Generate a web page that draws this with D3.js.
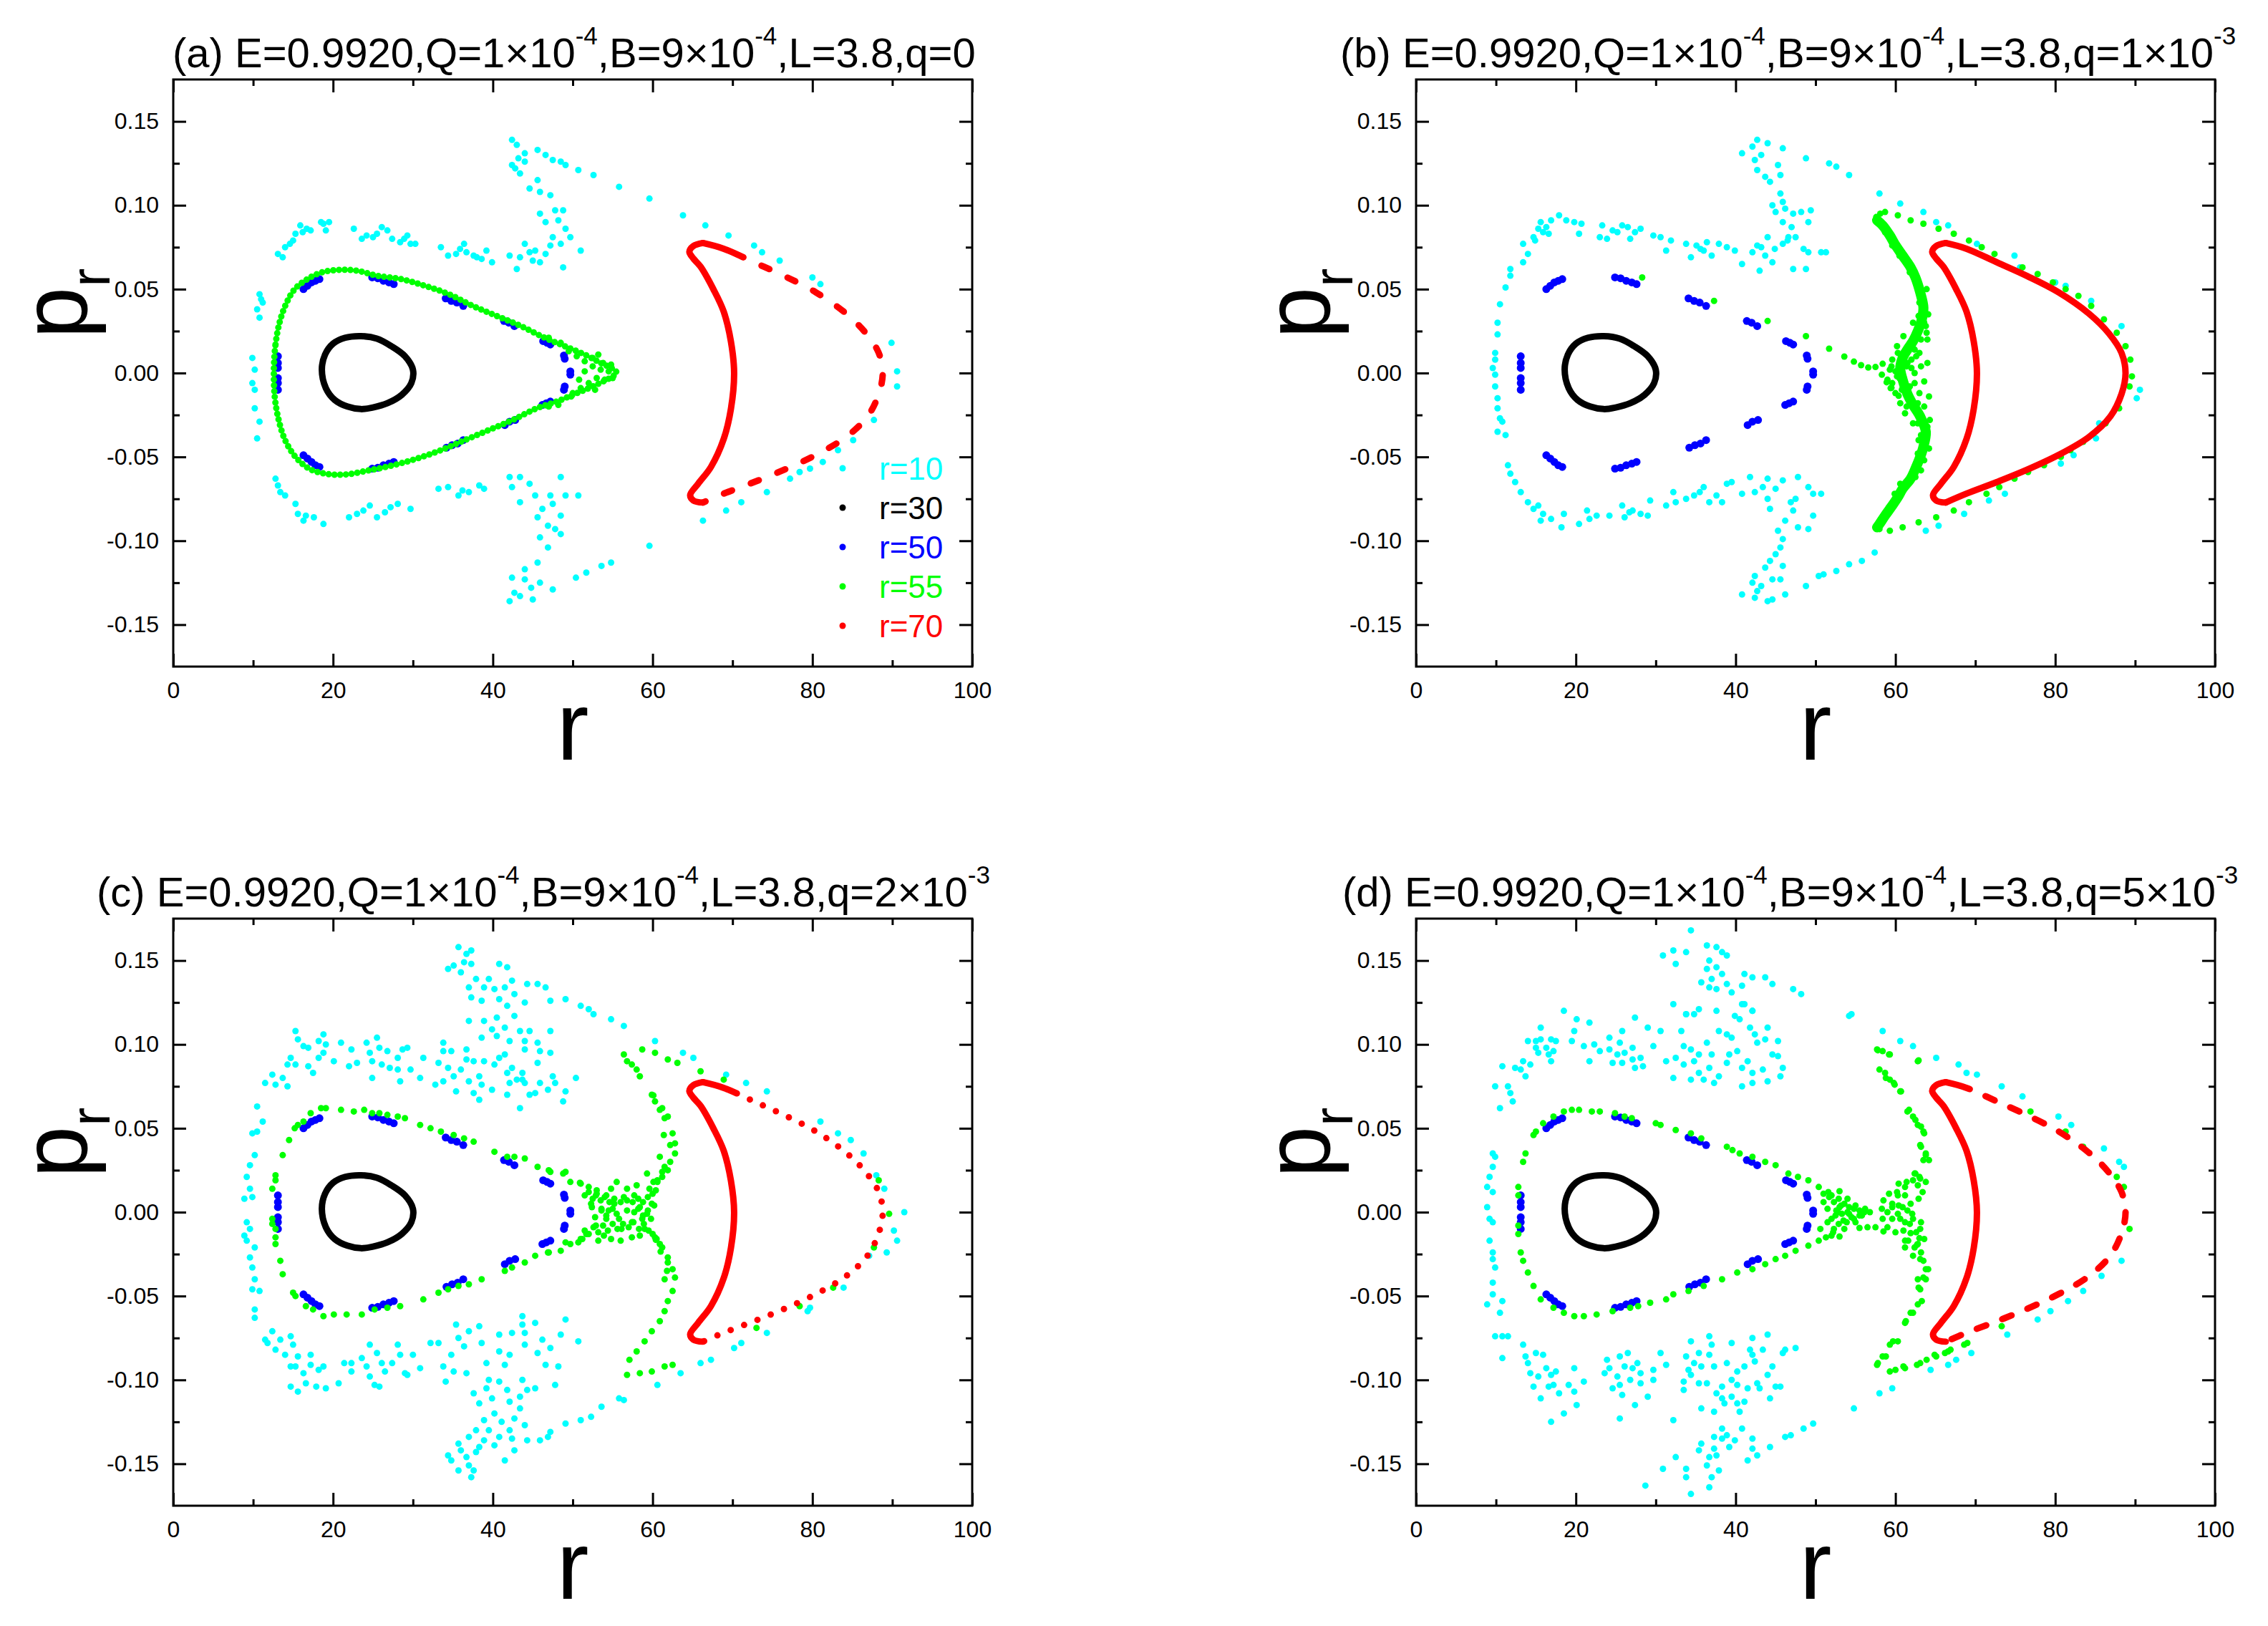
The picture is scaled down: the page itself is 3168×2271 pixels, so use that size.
<!DOCTYPE html>
<html><head><meta charset="utf-8">
<script src="https://cdn.jsdelivr.net/npm/d3@7"></script>
<style>body{margin:0;background:#fff}svg{display:block}text{font-family:"Liberation Sans",Arial,sans-serif}</style>
</head><body>
<script>
// ---------------- data ----------------
const xTicks=[0,20,40,60,80,100];
const xMinor=[10,30,50,70,90];
const yTicks=[-0.15,-0.10,-0.05,0,0.05,0.10,0.15];
const yMinor=[-0.125,-0.075,-0.025,0.025,0.075,0.125];
const panelLetters=["(a)","(b)","(c)","(d)"];
const qMain=["0","1×10","2×10","5×10"];
const qSup=["","-3","-3","-3"];
const seriesLabels=["r=10","r=30","r=50","r=55","r=70"];

// r=30 orbit (same in all panels)
const blackLoop=[[18.6,0.002],[19.0,0.011],[20.0,0.0175],[21.5,0.021],[23.5,0.022],[25.5,0.0205],[27.3,0.016],[29.0,0.010],[30.0,0.002],[29.8,-0.006],[28.6,-0.013],[26.8,-0.018],[25.0,-0.0205],[23.5,-0.0215],[21.8,-0.020],[20.2,-0.016],[19.1,-0.009]];

// r=50 island chain (same in all panels)
const blueDots=[[16.3,0.050],[16.8,0.052],[17.3,0.054],[17.8,0.055],[18.3,0.056],
[24.9,0.057],[25.6,0.0565],[26.3,0.055],[27.0,0.054],[27.6,0.053],
[34.1,0.0445],[34.8,0.043],[35.5,0.042],[36.3,0.040],
[41.4,0.031],[42.0,0.030],[42.7,0.028],
[46.3,0.019],[46.8,0.018],[47.2,0.017],
[48.9,0.0105],[49.0,0.0085],[49.7,0.001],[49.7,-0.001],[49.0,-0.008],[48.9,-0.010],
[47.2,-0.017],[46.7,-0.018],[46.2,-0.019],
[42.8,-0.028],[42.1,-0.029],[41.5,-0.031],
[36.3,-0.040],[35.6,-0.042],[34.9,-0.043],[34.2,-0.0445],
[27.6,-0.053],[27.0,-0.054],[26.3,-0.055],[25.6,-0.0565],[24.9,-0.057],
[18.3,-0.056],[17.8,-0.055],[17.3,-0.053],[16.8,-0.051],[16.3,-0.049],
[13.1,0.010],[13.1,0.006],[13.1,0.003],[13.1,-0.003],[13.1,-0.006],[13.1,-0.010]];

// r=70 orbit: inner (left) side and outer (right) side
const redInner=[[66.3,0.0775],[65.1,0.0757],[64.6,0.0723],[65.1,0.0683],[66.0,0.0634],[67.6,0.050],[68.9,0.0366],[69.8,0.0188],[70.2,0.0],[69.8,-0.0214],[68.9,-0.0393],[67.3,-0.056],[65.7,-0.066],[64.7,-0.0728],[65.1,-0.076],[66.3,-0.0772]];
const redOuter=[[66.3,0.0775],[68.9,0.0741],[72.7,0.066],[76.5,0.0578],[80.4,0.0482],[84.2,0.0355],[86.7,0.0237],[88.3,0.012],[88.8,0.0],[88.3,-0.0125],[86.9,-0.0259],[84.2,-0.0382],[80.4,-0.0489],[76.5,-0.0576],[72.7,-0.065],[68.9,-0.0719],[66.3,-0.0772]];

// r=55 loop (panel a)
const greenLoopA=[[12.6,0.003],[12.8,0.017],[13.3,0.030],[14.1,0.041],[15.2,0.050],[16.8,0.056],[18.6,0.060],[20.8,0.0615],[23.0,0.061],[25.5,0.058],[28.5,0.056],[31.5,0.052],[34.5,0.047],[37.5,0.040],[40.5,0.034],[43.5,0.028],[46.5,0.021],[49.0,0.016],[51.5,0.011],[53.5,0.006],[55.2,0.002],[55.5,0.0],[55.0,-0.002],[52.5,-0.008],[50.5,-0.012],[48.0,-0.017],[45.5,-0.021],[42.5,-0.028],[39.5,-0.034],[36.5,-0.040],[33.5,-0.046],[30.5,-0.051],[27.5,-0.055],[24.5,-0.058],[21.5,-0.0605],[19.0,-0.060],[17.0,-0.057],[15.3,-0.050],[14.0,-0.040],[13.2,-0.028],[12.7,-0.014]];
const greenTipA=[[50.5,0.010],[51.5,0.007],[52.5,0.004],[53.5,0.002],[54.5,0.001],[53.0,-0.003],[52.0,-0.006],[51.0,-0.009],[50.0,-0.012],[52.5,0.009],[53.8,0.006],[54.0,-0.004],[51.5,0.001],[50.8,-0.004],[53.2,0.011],[52.8,-0.010],[49.5,0.013],[49.8,-0.014],[54.8,0.005],[55.0,-0.003],[48.5,0.018],[48.2,-0.019],[47.0,0.021],[47.0,-0.020]];

const cyanA=[[13.1,0.071],[13.7,0.069],[14.0,0.075],[15.0,0.079],[15.3,0.083],[15.9,0.088],[16.7,0.086],[17.2,0.085],[18.5,0.090],[19.1,0.085],[18.8,0.089],[19.5,0.090],[14.6,0.077],[16.2,0.084],
[22.6,0.086],[23.6,0.080],[24.2,0.082],[25.5,0.083],[26.1,0.087],[26.8,0.085],[27.4,0.080],[28.4,0.078],[29.3,0.082],[29.7,0.077],[30.3,0.077],[25.0,0.081],[28.9,0.080],
[33.5,0.075],[34.4,0.070],[35.4,0.071],[36.4,0.077],[36.7,0.072],[37.6,0.070],[38.6,0.068],[39.2,0.073],[39.9,0.066],[35.9,0.074],[38.0,0.069],
[42.4,0.139],[43.0,0.136],[44.0,0.131],[42.4,0.124],[43.4,0.119],[44.0,0.126],[45.6,0.133],[46.6,0.130],[47.5,0.127],[48.5,0.126],[49.1,0.124],[50.7,0.121],[52.6,0.118],[55.8,0.111],[59.6,0.104],[63.8,0.094],[66.6,0.088],[69.5,0.082],[72.7,0.076],[73.7,0.072],[75.9,0.067],[80.0,0.057],[81.0,0.053],[43.2,0.128],[42.8,0.122],
[44.6,0.110],[45.6,0.115],[45.9,0.108],[47.2,0.106],[45.9,0.095],[46.6,0.090],[47.8,0.097],[48.8,0.097],[48.2,0.091],[49.1,0.086],[49.7,0.081],[47.5,0.081],[48.5,0.077],[47.2,0.076],[51.0,0.073],[44.0,0.077],[43.4,0.069],[45.0,0.067],[45.9,0.066],[43.0,0.062],[48.8,0.063],[42.1,0.070],[45.3,0.073],[46.6,0.071],[44.6,0.072],
[12.8,-0.063],[13.1,-0.067],[13.4,-0.071],[14.0,-0.073],[15.3,-0.078],[15.6,-0.084],[16.6,-0.085],[16.3,-0.088],[18.8,-0.090],[17.6,-0.086],[22.0,-0.086],[23.0,-0.084],[24.6,-0.079],[25.5,-0.086],[26.5,-0.083],[28.1,-0.078],[29.7,-0.081],[23.8,-0.082],[27.2,-0.080],
[33.2,-0.069],[34.4,-0.068],[35.7,-0.073],[37.0,-0.071],[38.3,-0.067],[38.9,-0.069],[36.2,-0.070],
[42.1,-0.062],[43.4,-0.062],[42.4,-0.068],[44.6,-0.066],[43.4,-0.077],[45.3,-0.073],[47.2,-0.073],[48.5,-0.062],[49.1,-0.073],[50.7,-0.073],[47.5,-0.078],[48.5,-0.085],[45.6,-0.086],[46.9,-0.091],[47.8,-0.093],[48.5,-0.096],[45.9,-0.098],[46.9,-0.104],[45.6,-0.113],[44.0,-0.117],[42.4,-0.122],[44.0,-0.123],[45.9,-0.125],[47.5,-0.129],[42.7,-0.131],[42.1,-0.136],[45.0,-0.135],[43.4,-0.133],[44.8,-0.128],[46.2,-0.081],
[50.4,-0.122],[51.7,-0.119],[53.6,-0.115],[54.8,-0.113],[59.6,-0.103],[66.3,-0.088],[69.2,-0.082],[71.1,-0.077],[74.3,-0.071],[77.2,-0.063],[78.4,-0.059],[79.7,-0.057],[81.3,-0.053],[83.2,-0.046],[85.1,-0.040],[87.7,-0.028],[89.9,0.018],[90.6,0.001],[90.6,-0.008],
[10.8,0.047],[11.2,0.042],[10.5,0.038],[10.8,0.033],[9.9,0.009],[10.2,0.002],[9.9,-0.006],[10.2,-0.010],[10.2,-0.021],[10.8,-0.029],[10.5,-0.039],[11.0,0.044]];

const cyanB=[[10.5,0.041],[10.2,0.030],[10.2,0.023],[9.9,0.012],[9.9,0.008],[9.6,0.003],[9.9,-0.001],[9.9,-0.008],[10.2,-0.015],[10.2,-0.021],[10.5,-0.027],[10.8,-0.029],[11.2,-0.037],[10.2,-0.035],[11.2,0.051],[11.8,0.058],[11.8,0.062],[13.4,0.066],[13.4,0.077],[14.0,0.071],[14.7,0.081],[15.3,0.086],[15.6,0.090],[16.3,0.087],[16.6,0.083],[16.9,0.091],[17.9,0.094],[18.8,0.091],[19.8,0.090],[20.7,0.089],[20.4,0.083],[15.9,0.084],[14.9,0.079],
[23.0,0.081],[23.3,0.088],[23.9,0.080],[24.6,0.085],[25.2,0.084],[25.8,0.088],[26.5,0.087],[26.8,0.080],[27.4,0.084],[28.1,0.086],[29.7,0.082],[30.6,0.081],[31.3,0.073],[31.9,0.079],[33.8,0.077],[34.4,0.069],[35.1,0.076],[36.0,0.073],[36.4,0.078],[37.0,0.070],[37.9,0.077],[38.9,0.075],[39.9,0.073],[40.8,0.065],[42.1,0.072],[42.7,0.076],[43.0,0.061],[43.7,0.070],[44.6,0.066],[44.0,0.081],[45.9,0.077],[47.2,0.062],[48.8,0.062],[47.5,0.081],[48.5,0.074],[49.1,0.072],[50.7,0.072],[51.3,0.072],[35.6,0.074],[43.2,0.075],[44.9,0.074],[46.5,0.079],
[40.8,0.131],[42.1,0.135],[42.7,0.139],[44.0,0.137],[42.4,0.127],[42.7,0.121],[43.7,0.117],[44.3,0.114],[45.9,0.134],[48.8,0.128],[45.6,0.118],[45.3,0.124],[43.2,0.130],[45.6,0.107],[45.9,0.102],[44.6,0.100],[45.0,0.096],[46.2,0.098],[47.2,0.095],[48.2,0.096],[49.4,0.097],[49.1,0.090],[45.9,0.090],[46.6,0.081],[47.0,0.087],
[51.7,0.125],[52.6,0.123],[54.2,0.118],[58.0,0.107],[60.6,0.101],[63.5,0.096],[65.1,0.090],[66.6,0.088],[70.2,0.077],[74.9,0.070],[75.6,0.063],[80.0,0.054],[81.3,0.052],[84.5,0.043],[88.3,0.028],[90.6,-0.010],[90.2,-0.015],[85.5,-0.030],[85.1,-0.039],[82.3,-0.049],[80.7,-0.054],[73.7,-0.072],[71.7,-0.076],[68.6,-0.084],[65.4,-0.091],[63.8,-0.094],
[11.5,-0.055],[11.8,-0.060],[12.4,-0.065],[13.1,-0.071],[14.0,-0.077],[15.3,-0.079],[15.9,-0.084],[15.6,-0.088],[16.9,-0.087],[18.2,-0.092],[18.5,-0.084],[20.4,-0.090],[21.4,-0.082],[21.7,-0.087],[22.6,-0.085],[24.2,-0.085],[25.8,-0.079],[26.1,-0.086],[27.1,-0.082],[28.1,-0.084],[29.0,-0.085],[29.3,-0.076],[31.3,-0.079],[32.2,-0.071],[32.5,-0.077],[33.8,-0.075],[34.8,-0.073],[36.0,-0.068],[36.7,-0.077],[37.6,-0.073],[38.3,-0.077],[38.9,-0.066],[39.5,-0.065],[40.8,-0.072],[41.8,-0.062],[42.4,-0.071],[43.4,-0.068],[44.0,-0.063],[44.0,-0.075],[44.3,-0.081],[45.0,-0.069],[45.9,-0.064],[46.9,-0.077],[47.5,-0.075],[47.8,-0.062],[49.1,-0.068],[49.7,-0.072],[50.7,-0.072],[14.7,-0.081],[26.7,-0.083],[35.5,-0.071],
[47.2,-0.082],[46.2,-0.088],[47.8,-0.092],[49.1,-0.093],[49.7,-0.085],[45.3,-0.094],[45.9,-0.099],[45.6,-0.104],[45.0,-0.108],[44.3,-0.112],[45.9,-0.115],[43.7,-0.116],[42.4,-0.121],[44.6,-0.123],[45.6,-0.123],[42.1,-0.125],[42.7,-0.130],[40.8,-0.132],[42.4,-0.134],[44.0,-0.136],[44.6,-0.135],[46.2,-0.132],[43.2,-0.127],
[48.8,-0.127],[50.4,-0.121],[51.0,-0.120],[52.6,-0.118],[54.2,-0.114],[55.8,-0.112],[57.4,-0.107]];

const greenBandB=[[57.7,0.091],[58.4,0.088],[59.3,0.082],[59.9,0.077],[60.9,0.070],[61.9,0.063],[62.5,0.057],[63.1,0.048],[63.5,0.039],[63.3,0.032],[62.8,0.025],[62.2,0.019],[61.5,0.014],[60.9,0.009],[60.6,0.003],[60.9,-0.004],[61.5,-0.0125],[62.2,-0.019],[63.1,-0.026],[63.8,-0.035],[63.5,-0.044],[63.1,-0.050],[62.5,-0.057],[61.9,-0.063],[60.9,-0.069],[60.3,-0.074],[59.6,-0.079],[58.7,-0.085],[58.0,-0.090],[57.7,-0.092]];
const greenDotsB=[[62.2,0.030],[63.8,0.028],[64.0,0.020],[61.0,0.022],[60.3,0.012],[59.6,0.008],[59.3,0.002],[59.6,-0.006],[60.0,-0.012],[60.6,-0.018],[61.2,-0.024],[62.8,-0.030],[64.2,-0.014],[63.6,-0.005],[62.4,0.000],[62.0,0.008],[63.0,0.012],[61.8,-0.008],[62.2,-0.030],[61.6,-0.010],[62.8,-0.018],[64.3,-0.028],[64.1,0.035],[63.0,0.042],[62.4,0.014],[61.4,0.004],[60.2,-0.002],[63.2,0.004],[64.0,0.006],[62.9,-0.040],[64.2,-0.045],[63.9,0.050],
[59.5,0.004],[60.0,0.001],[60.5,-0.003],[61.5,0.006],[62.0,0.003],[62.6,0.010],[61.0,0.012],[60.2,0.016],[61.8,0.018],[63.2,0.020],[62.8,0.026],[63.6,0.030],[63.9,0.024],[61.2,-0.006],[62.4,-0.006],[60.8,-0.010],[61.8,-0.015],[63.0,-0.012],[62.5,-0.022],[63.6,-0.020],[64.0,-0.032],[63.2,-0.037],[62.8,-0.048],[63.6,-0.052],[59.0,-0.004],[59.4,-0.009],[61.4,-0.020],[60.8,0.007],[62.9,0.034],[63.5,0.044],[62.8,0.052],[61.8,0.060],[60.5,0.070],[59.6,0.076],[58.7,0.084],[60.6,-0.066],[59.9,-0.072],[59.2,-0.080],[58.3,-0.087],[63.2,-0.058],[62.5,-0.062],
[57.6,0.093],[58.1,0.095],[57.9,0.090],[58.4,0.0055],[57.5,0.0036],[56.6,0.0033],[55.7,0.0047],[54.8,0.0068],[53.6,0.0098],[51.7,0.0145],[48.8,0.022],[44.0,0.031],[37.3,0.043],[28.3,0.057],[58.3,-0.001],[58.9,-0.0055],[59.5,-0.0088],[60.4,-0.0136],
[58.7,0.096],[60.3,0.094],[61.9,0.091],[63.5,0.089],[65.4,0.086],[67.3,0.083],[69.2,0.079],[70.8,0.075],[72.4,0.071],[75.9,0.063],[77.8,0.059],[79.7,0.054],[81.3,0.050],[82.9,0.046],[84.5,0.040],[86.1,0.032],[87.7,0.024],[88.8,0.016],[89.4,0.008],[89.6,-0.002],[89.3,-0.008],[88.0,-0.021],[86.3,-0.030],[84.8,-0.036],[83.5,-0.041],[81.9,-0.046],[80.7,-0.050],[78.6,-0.055],[76.6,-0.059],[74.9,-0.063],[73.0,-0.068],[71.4,-0.072],[69.2,-0.077],[67.3,-0.082],[65.1,-0.086],[62.9,-0.089],[60.9,-0.092],[59.3,-0.094],[58.0,-0.093]];

const cyanC=[[11.5,0.077],[12.4,0.082],[12.8,0.076],[13.7,0.080],[14.3,0.075],[14.3,0.088],[14.7,0.092],[15.3,0.108],[15.6,0.103],[15.3,0.088],[16.3,0.099],[16.9,0.098],[16.9,0.087],[17.5,0.083],[18.2,0.102],[18.8,0.106],[19.1,0.100],[18.8,0.095],[18.2,0.092],[20.1,0.090],[21.0,0.101],[22.3,0.097],[22.0,0.087],[23.0,0.089],[24.2,0.101],[24.6,0.095],[24.9,0.090],[25.5,0.104],[25.8,0.098],[26.1,0.088],[26.8,0.096],[24.9,0.080],[27.1,0.086],[28.1,0.092],[28.7,0.097],[29.3,0.098],[28.1,0.085],[28.4,0.078],[29.7,0.085],[31.3,0.092],[30.9,0.080],
[33.8,0.101],[33.8,0.096],[33.2,0.089],[34.8,0.096],[34.4,0.086],[35.1,0.081],[33.8,0.078],[32.8,0.076],[36.7,0.097],[36.7,0.091],[36.0,0.085],[37.0,0.078],[37.6,0.090],[38.3,0.081],[38.9,0.090],[38.6,0.076],[35.4,0.072],[37.6,0.071],[38.3,0.067],[39.9,0.073],[40.8,0.092],[40.2,0.088],[41.5,0.094],[41.8,0.083],[42.1,0.077],[43.0,0.079],[43.7,0.083],[44.0,0.077],[44.6,0.070],[45.6,0.089],[45.9,0.077],[46.9,0.073],[47.2,0.095],[47.8,0.077],[49.1,0.072],[48.8,0.066],[50.4,0.080],[43.4,0.062],[41.8,0.070],
[35.7,0.158],[37.3,0.156],[36.7,0.154],[36.4,0.149],[35.1,0.147],[34.4,0.145],[37.3,0.148],[36.0,0.143],[37.9,0.139],[39.5,0.139],[40.8,0.148],[41.8,0.146],[38.9,0.134],[37.0,0.134],[40.2,0.133],[41.5,0.134],[42.4,0.138],[42.7,0.130],[44.3,0.136],[45.6,0.136],[46.6,0.134],[37.3,0.128],[38.6,0.126],[40.8,0.127],[41.8,0.123],[44.0,0.125],[47.2,0.126],[49.1,0.127],[51.0,0.123],[52.0,0.121],[52.6,0.118],[54.8,0.115],[56.4,0.111],[60.3,0.102],
[37.0,0.114],[38.9,0.114],[40.5,0.116],[42.7,0.117],[39.9,0.109],[41.5,0.110],[43.4,0.108],[44.6,0.108],[47.2,0.108],[38.6,0.104],[40.5,0.105],[42.1,0.102],[44.0,0.102],[45.6,0.101],[44.0,0.097],[45.9,0.096],[42.4,0.086],[43.7,0.079],[45.3,0.071],[47.5,0.081],
[63.8,0.095],[65.1,0.092],[69.2,0.082],[71.7,0.077],[74.3,0.072],[81.0,0.054],[83.2,0.047],[84.8,0.043],[86.4,0.035],[88.0,0.022],[89.0,0.014],[91.5,0.0],[90.2,-0.011],[90.6,-0.017],[89.3,-0.024],[87.1,-0.026],[83.9,-0.045],[79.7,-0.057],[79.4,-0.059],[74.3,-0.072],[71.1,-0.078],[70.2,-0.081],[67.3,-0.088],[66.0,-0.090],[63.5,-0.096],[60.6,-0.103],[56.4,-0.112],[55.8,-0.111],[53.6,-0.116],[52.3,-0.122],[51.0,-0.124],[49.1,-0.126],
[10.5,0.063],[11.2,0.054],[9.9,0.047],[10.5,0.048],[10.2,0.034],[9.6,0.028],[9.2,0.021],[9.6,0.014],[8.9,0.008],[9.9,0.009],[9.2,-0.006],[9.6,-0.010],[8.9,-0.014],[9.2,-0.017],[10.2,-0.021],[9.6,-0.027],[9.9,-0.033],[10.2,-0.040],[9.9,-0.046],[10.8,-0.047],[10.2,-0.058],[10.2,-0.063],
[11.5,-0.076],[12.4,-0.071],[11.8,-0.078],[12.8,-0.082],[13.4,-0.076],[14.7,-0.074],[15.0,-0.079],[14.0,-0.085],[14.7,-0.092],[15.6,-0.086],[15.3,-0.092],[17.2,-0.085],[17.2,-0.091],[16.3,-0.096],[16.6,-0.102],[14.7,-0.104],[15.6,-0.107],[17.9,-0.104],[19.1,-0.105],[18.8,-0.092],[18.2,-0.094],[20.7,-0.102],[21.4,-0.090],[22.3,-0.095],[22.3,-0.090],[23.6,-0.087],[24.6,-0.079],[24.2,-0.092],[24.6,-0.098],[25.2,-0.103],[25.8,-0.104],[25.5,-0.084],[26.1,-0.090],[26.5,-0.095],[27.4,-0.090],[28.1,-0.079],[28.4,-0.085],[29.0,-0.096],[29.3,-0.097],[30.0,-0.085],[30.9,-0.093],
[32.2,-0.078],[33.2,-0.078],[33.8,-0.092],[34.1,-0.101],[34.8,-0.085],[35.1,-0.095],[35.4,-0.067],[35.7,-0.075],[36.4,-0.080],[36.7,-0.096],[37.0,-0.071],[38.3,-0.068],[38.6,-0.078],[39.2,-0.090],[39.5,-0.100],[40.8,-0.073],[40.8,-0.083],[41.5,-0.091],[42.1,-0.085],[42.4,-0.072],[43.7,-0.062],[44.0,-0.072],[44.0,-0.079],[45.3,-0.066],[45.6,-0.084],[46.2,-0.076],[46.6,-0.091],[47.2,-0.081],[48.2,-0.092],[47.8,-0.103],[48.5,-0.073],[49.1,-0.064],[50.7,-0.077],[43.7,-0.067],
[37.6,-0.108],[38.3,-0.114],[39.2,-0.105],[39.9,-0.111],[40.8,-0.101],[41.8,-0.106],[42.1,-0.113],[43.4,-0.110],[43.7,-0.100],[44.3,-0.106],[45.3,-0.105],[43.4,-0.117],[40.2,-0.120],[38.9,-0.124],[37.9,-0.130],[39.5,-0.130],[41.1,-0.125],[42.7,-0.123],[44.0,-0.127],[42.1,-0.130],[40.8,-0.134],[38.9,-0.136],[37.0,-0.134],[38.3,-0.140],[35.7,-0.138],[36.0,-0.142],[34.4,-0.145],[36.7,-0.146],[37.9,-0.143],[34.8,-0.148],[37.0,-0.151],[35.7,-0.154],[37.6,-0.154],[37.3,-0.158],[40.2,-0.139],[42.4,-0.135],[41.5,-0.148],[42.7,-0.142],[44.3,-0.136],[45.9,-0.136],[47.2,-0.131],[46.9,-0.134]];

const greenDotsC=[[12.8,0.019],[12.8,0.022],[13.7,0.034],[14.5,0.043],[15.2,0.050],[15.6,0.052],[16.3,0.054],[17.2,0.059],[18.5,0.062],[19.1,0.062],[21.0,0.061],[22.6,0.060],[23.9,0.061],[24.9,0.059],[25.8,0.059],[26.8,0.058],[28.1,0.057],[29.0,0.056],[30.9,0.052],[32.2,0.050],[33.5,0.048],[35.1,0.046],[36.4,0.044],[37.6,0.042],[40.2,0.036],[41.8,0.033],[42.7,0.033],[44.0,0.032],[45.6,0.027],[47.2,0.024],[48.8,0.023],[49.7,0.018],[51.0,0.017],[52.0,0.015],
[12.8,-0.010],[12.8,-0.015],[12.8,-0.019],[13.4,-0.029],[13.7,-0.037],[15.0,-0.048],[15.3,-0.050],[16.6,-0.056],[17.5,-0.058],[18.8,-0.062],[20.1,-0.061],[21.7,-0.061],[23.6,-0.061],[25.2,-0.058],[26.8,-0.057],[28.4,-0.056],[31.3,-0.052],[33.2,-0.048],[34.4,-0.046],[35.7,-0.044],[37.0,-0.043],[38.6,-0.040],[41.5,-0.035],[42.4,-0.033],[44.0,-0.030],[45.3,-0.026],[46.9,-0.024],[48.5,-0.023],[49.7,-0.019],[51.0,-0.016],[12.4,0.014],[12.4,-0.004],[12.4,-0.007],
[52.3,0.005],[52.9,0.010],[53.6,0.002],[54.2,-0.004],[52.9,-0.008],[54.8,0.014],[55.2,0.005],[55.8,-0.004],[56.1,-0.010],[56.4,0.009],[56.8,0.001],[57.4,-0.006],[57.7,0.010],[58.4,0.003],[58.7,-0.004],[59.0,-0.010],[59.6,0.014],[59.9,0.005],[60.3,-0.015],[60.9,-0.019],[60.6,0.019],[61.2,0.021],[53.9,-0.014],[54.8,-0.016],[55.5,0.018],[56.8,0.014],[51.7,-0.013],[50.7,-0.018],[54.2,0.010],[57.4,-0.015],[58.4,-0.014],[59.3,-0.001],[55.5,-0.001],[54.5,0.001],[57.7,0.0],[53.0,0.013],[58.0,0.016],[56.0,-0.017],[53.2,-0.017],
[51.5,0.010],[52.0,0.012],[52.5,0.008],[53.0,0.011],[53.5,0.007],[54.0,0.009],[54.6,0.006],[55.2,0.008],[56.0,0.006],[56.8,0.007],[57.5,0.006],[58.2,0.008],[58.8,0.006],[59.4,0.009],[60.0,0.011],[60.4,0.013],
[51.5,-0.011],[52.0,-0.013],[52.6,-0.009],[53.2,-0.012],[53.8,-0.008],[54.4,-0.011],[55.0,-0.007],[55.6,-0.010],[56.3,-0.007],[57.0,-0.009],[57.6,-0.006],[58.3,-0.010],[58.9,-0.007],[59.5,-0.011],[60.0,-0.013],[60.5,-0.016],
[52.4,0.003],[52.8,-0.003],[53.6,0.001],[54.2,-0.002],[55.0,0.002],[58.2,0.002],[58.8,-0.002],[59.4,0.001],[59.8,-0.004],[60.2,0.004],[50.9,0.0175],[49.1,0.024],[47.0,0.025],[51.2,-0.016],[49.1,-0.018],[47.0,-0.024],
[56.4,0.094],[56.8,0.090],[57.4,0.088],[58.0,0.085],[58.4,0.081],[58.7,0.097],[60.3,0.095],[61.9,0.091],[63.1,0.089],[59.9,0.070],[60.3,0.066],[61.2,0.062],[61.9,0.057],[62.5,0.047],[62.8,0.041],[62.8,0.035],[62.2,0.030],[61.9,0.025],[61.2,0.024],[60.6,0.018],
[60.1,0.0696],[60.9,0.061],[61.5,0.056],[61.4,0.046],[62.2,0.040],[60.9,0.033],[61.5,0.027],[59.3,0.023],[60.1,0.018],
[61.2,-0.021],[61.9,-0.027],[62.5,-0.034],[62.8,-0.039],[62.5,-0.047],[61.9,-0.053],[61.5,-0.059],[60.9,-0.065],[59.9,-0.071],[59.0,-0.077],[58.0,-0.083],[57.1,-0.088],[56.8,-0.097],[58.4,-0.096],[59.9,-0.095],[61.5,-0.092],[62.5,-0.091],
[60.4,-0.0165],[61.0,-0.0235],[61.9,-0.030],[61.8,-0.035],[61.5,-0.040],
[66.0,0.084],[68.9,0.079],[88.3,0.019],[89.6,-0.001],[87.7,-0.021],[82.6,-0.045],[78.4,-0.056],[73.0,-0.069]];

const cyanD=[[9.9,0.075],[10.5,0.062],[10.8,0.087],[11.5,0.075],[12.1,0.066],[11.8,0.071],[12.4,0.086],[13.1,0.085],[13.7,0.081],[13.4,0.090],[14.0,0.102],[14.3,0.088],[15.0,0.102],[15.0,0.098],[15.3,0.095],[15.6,0.110],[15.6,0.103],[16.3,0.098],[16.6,0.094],[16.9,0.103],[17.5,0.102],[17.2,0.096],[16.9,0.090],[18.5,0.120],[19.5,0.102],[19.8,0.108],[20.1,0.115],[21.0,0.099],[21.7,0.113],[21.7,0.090],[22.3,0.100],[23.0,0.096],[24.2,0.104],[24.2,0.097],[24.6,0.089],[25.2,0.094],[25.5,0.101],[25.8,0.108],[25.8,0.089],[26.1,0.095],[27.1,0.098],[27.4,0.116],[27.1,0.091],[28.1,0.092],[27.4,0.086],[28.4,0.087],[29.0,0.110],[29.7,0.099],[30.6,0.108],[31.3,0.090],
[32.2,0.124],[32.2,0.080],[32.5,0.092],[33.2,0.108],[33.5,0.099],[33.5,0.088],[33.8,0.118],[34.4,0.097],[34.4,0.079],[34.8,0.090],[35.4,0.094],[35.4,0.083],[36.0,0.079],[36.4,0.101],[36.7,0.086],[37.0,0.094],[37.3,0.077],[37.6,0.120],[37.9,0.108],[37.9,0.081],[38.9,0.106],[38.9,0.089],[39.2,0.094],[39.5,0.104],[39.9,0.117],[40.2,0.096],[40.5,0.115],[40.8,0.086],[40.8,0.075],[41.1,0.124],[41.5,0.090],[41.8,0.110],[42.1,0.120],[42.1,0.083],[42.1,0.077],[42.4,0.106],[42.7,0.101],[43.4,0.085],[43.7,0.103],[44.0,0.110],[44.0,0.078],[44.6,0.094],[45.3,0.102],[45.6,0.081],[45.9,0.086],[45.3,0.093],
[34.4,0.168],[30.9,0.153],[32.2,0.156],[33.8,0.155],[32.5,0.148],[36.4,0.159],[37.6,0.158],[38.3,0.155],[38.9,0.153],[36.7,0.150],[36.4,0.145],[37.6,0.146],[38.3,0.142],[37.0,0.139],[35.7,0.137],[36.7,0.134],[37.6,0.133],[38.9,0.136],[39.5,0.131],[40.8,0.135],[41.1,0.142],[42.1,0.140],[43.7,0.140],[44.6,0.136],[47.2,0.133],[48.2,0.130],[40.8,0.124],[42.1,0.120],[33.8,0.118],[34.8,0.118],[35.4,0.121],[54.2,0.117],[54.5,0.118],
[58.4,0.108],[60.6,0.102],[62.2,0.099],[65.1,0.092],[67.9,0.088],[68.9,0.083],[70.2,0.082],[73.3,0.075],[75.9,0.069],[80.4,0.057],[82.0,0.052],[86.1,0.038],[88.0,0.030],[88.6,0.027],[88.3,-0.029],[85.8,-0.038],[83.5,-0.047],[81.6,-0.053],[79.4,-0.059],[77.8,-0.064],[74.0,-0.073],[69.5,-0.084],[67.6,-0.088],[66.6,-0.091],[64.4,-0.094],[59.6,-0.105],[58.0,-0.108],[54.8,-0.117],[49.7,-0.126],[48.5,-0.129],[46.9,-0.133],[46.2,-0.134],[44.3,-0.140],[42.7,-0.145],
[9.6,0.035],[9.9,0.033],[9.6,0.027],[9.2,0.021],[8.9,0.015],[9.6,0.012],[8.9,0.003],[9.2,-0.004],[9.6,-0.006],[9.2,-0.017],[9.6,-0.024],[9.6,-0.028],[9.9,-0.033],[9.6,-0.042],[9.6,-0.049],[8.9,-0.055],[10.8,-0.053],[10.5,-0.060],[9.9,-0.074],[10.8,-0.074],[11.5,-0.074],[10.8,-0.087],
[13.4,-0.079],[13.7,-0.086],[14.0,-0.090],[14.3,-0.096],[15.0,-0.084],[14.7,-0.104],[15.3,-0.098],[15.6,-0.111],[15.9,-0.085],[16.3,-0.093],[16.9,-0.097],[16.6,-0.104],[17.2,-0.103],[17.5,-0.095],[17.9,-0.108],[16.9,-0.125],[18.5,-0.120],[19.1,-0.103],[19.8,-0.093],[19.8,-0.107],[20.1,-0.115],[21.0,-0.101],[23.6,-0.096],[23.9,-0.088],[24.2,-0.093],[24.6,-0.105],[25.2,-0.098],[25.5,-0.086],[25.5,-0.103],[25.8,-0.109],[26.1,-0.092],[26.5,-0.084],[26.8,-0.100],[27.1,-0.093],[27.4,-0.115],[27.7,-0.090],[28.1,-0.096],[28.1,-0.102],[29.0,-0.110],[29.7,-0.100],[29.7,-0.094],[30.6,-0.084],[31.3,-0.091],[25.5,-0.123],[32.2,-0.124],
[33.5,-0.106],[33.5,-0.101],[33.8,-0.086],[34.4,-0.077],[34.1,-0.094],[34.4,-0.097],[34.8,-0.090],[35.4,-0.102],[35.4,-0.084],[35.7,-0.092],[36.4,-0.102],[36.7,-0.074],[36.7,-0.085],[37.0,-0.079],[37.3,-0.092],[37.6,-0.108],[38.3,-0.111],[38.3,-0.104],[38.9,-0.090],[39.5,-0.078],[39.5,-0.100],[40.2,-0.103],[40.2,-0.095],[41.1,-0.092],[41.5,-0.105],[41.8,-0.082],[42.1,-0.085],[42.1,-0.075],[42.4,-0.089],[42.7,-0.102],[43.0,-0.105],[43.4,-0.082],[44.0,-0.073],[44.0,-0.097],[44.3,-0.111],[44.6,-0.092],[45.0,-0.104],[45.6,-0.104],[45.9,-0.084],[46.2,-0.082],[47.5,-0.081],[39.5,-0.110],
[35.7,-0.117],[37.3,-0.119],[38.6,-0.114],[40.2,-0.114],[41.1,-0.113],[40.5,-0.119],[38.3,-0.129],[37.3,-0.134],[38.3,-0.135],[38.9,-0.133],[39.9,-0.136],[40.8,-0.129],[42.1,-0.135],[42.1,-0.141],[39.2,-0.140],[37.3,-0.141],[35.7,-0.138],[35.4,-0.142],[36.7,-0.146],[37.6,-0.145],[36.4,-0.151],[37.9,-0.154],[37.0,-0.158],[36.7,-0.164],[33.8,-0.153],[32.5,-0.146],[30.9,-0.153],[33.8,-0.158],[28.7,-0.163],[34.4,-0.168],[41.5,-0.148]];

const greenDotsD=[[12.8,0.015],[13.4,0.030],[13.7,0.035],[14.7,0.046],[15.0,0.048],[15.9,0.053],[17.2,0.057],[18.5,0.060],[19.5,0.061],[20.4,0.061],[22.0,0.060],[23.0,0.060],[24.9,0.059],[26.1,0.057],[27.0,0.056],[30.0,0.053],[30.6,0.052],[32.5,0.049],[34.4,0.047],[35.7,0.044],[38.9,0.039],[39.6,0.037],[40.5,0.035],[42.1,0.033],[43.7,0.030],[45.0,0.028],[46.6,0.023],[47.8,0.021],[49.1,0.019],[50.4,0.015],[51.0,0.011],[12.8,0.010],[12.8,-0.008],
[12.8,-0.013],[13.1,-0.024],[13.4,-0.029],[14.0,-0.036],[14.7,-0.044],[15.6,-0.052],[17.2,-0.057],[18.5,-0.060],[19.8,-0.062],[21.0,-0.062],[22.6,-0.061],[24.6,-0.059],[26.8,-0.057],[27.8,-0.056],[29.3,-0.054],[31.3,-0.052],[32.2,-0.049],[34.1,-0.047],[36.0,-0.044],[38.3,-0.040],[40.2,-0.036],[42.1,-0.034],[43.7,-0.031],[45.0,-0.028],[46.2,-0.026],[47.5,-0.023],[49.1,-0.020],[50.4,-0.017],[51.3,-0.015],
[51.7,0.009],[52.3,0.006],[52.9,0.008],[53.6,0.005],[54.2,0.003],[54.8,0.002],[55.5,0.001],[56.1,0.0],[55.8,-0.002],[54.8,-0.004],[53.9,-0.006],[52.9,-0.007],[52.3,-0.010],[53.3,-0.001],[54.2,-0.001],[52.6,0.001],[52.0,-0.004],[53.6,-0.010],[52.0,-0.014],[53.0,0.003],[51.5,0.002],
[51.0,0.006],[51.5,-0.006],[52.0,0.010],[52.5,-0.002],[53.0,0.0125],[53.5,-0.005],[54.0,0.008],[54.5,-0.003],[55.0,0.004],[55.5,-0.002],[56.2,0.002],[56.8,0.0],[53.2,0.004],[54.0,0.0],[52.2,-0.012],[53.0,-0.0145],[51.6,0.012],[50.6,-0.010],[55.0,-0.006],[52.8,0.0],
[55.5,-0.0094],[56.5,-0.009],[57.5,-0.009],[58.5,-0.0115],
[58.3,0.002],[58.5,0.007],[59.2,0.011],[60.2,0.012],[61.2,0.010],[61.9,0.005],[62.1,-0.001],[61.8,-0.007],[61.0,-0.011],[60.0,-0.012],[59.0,-0.009],[58.4,-0.004],[59.6,0.003],[60.6,-0.004],[60.4,0.004],[62.8,0.016],[63.4,0.012],[62.9,0.008],[63.2,-0.006],[62.6,-0.012],[63.6,-0.016],[61.6,-0.017],[62.4,-0.021],[60.4,0.017],[61.4,0.018],
[57.8,0.0965],[59.2,0.094],[62.9,0.0905],[58.0,0.085],[58.8,0.080],[59.8,0.077],[60.7,0.072],[61.7,0.061],[62.5,0.055],[63.2,0.051],[63.6,0.047],[63.2,0.039],[63.8,0.034],[64.2,0.031],[62.4,0.023],[63.0,0.021],[63.8,0.018],
[63.0,-0.0155],[62.7,-0.0195],[61.2,-0.021],[63.2,-0.024],[63.5,-0.029],[64.1,-0.034],[63.5,-0.039],[62.9,-0.045],[63.3,-0.053],[62.2,-0.060],[61.3,-0.065],[59.7,-0.077],[58.8,-0.086],[57.8,-0.090],[60.0,-0.094],[61.0,-0.092],[62.7,-0.091],[63.9,-0.088],[64.9,-0.085],[66.2,-0.084],[66.9,-0.082],[69.0,-0.078],
[57.7,0.097],[58.4,0.096],[59.3,0.094],[62.8,0.090],[58.7,0.083],[59.3,0.079],[59.9,0.076],[60.6,0.072],[61.5,0.060],[62.2,0.057],[62.8,0.052],[63.5,0.048],[63.1,0.040],[63.8,0.035],[63.5,0.031],[62.5,0.023],[63.1,0.020],[62.2,0.019],[61.2,0.015],[60.3,0.010],[59.6,0.005],[59.0,0.0],[59.6,-0.004],[60.3,-0.001],[60.9,0.003],[61.5,0.001],[61.2,-0.006],[62.2,-0.004],[63.1,-0.010],[61.9,-0.0125],[61.2,-0.017],[62.8,-0.019],[62.2,-0.026],[63.1,-0.028],[63.8,-0.034],[62.8,-0.040],[63.8,-0.040],[63.1,-0.046],[62.8,-0.055],[61.9,-0.060],[61.2,-0.066],[60.3,-0.077],[59.3,-0.079],[58.4,-0.086],[57.7,-0.091],[59.3,-0.095],[61.2,-0.093],[63.1,-0.090],[65.1,-0.086],[66.6,-0.083],[68.6,-0.079],
[76.9,0.060],[81.3,0.048],[83.5,0.039],[87.7,0.021],[88.6,0.015],[89.3,-0.010],[73.3,-0.068]];

// ---------------- drawing ----------------
const colors=["#00FFFF","#000000","#0000FF","#00FF00","#FF0000"];
const W=3168,H=2271,PW=1116,PH=820;
const origins=[[242,111],[1978,111],[242,1283],[1978,1283]];
const titleDx=[-1,-106,-107,-103];
const panelCyan=[cyanA,cyanB,cyanC,cyanD];
const panelGreenDots=[greenTipA,greenDotsB,greenDotsC,greenDotsD];
// outer side of r=70 orbit: [solid lead, dash, gap] (null = solid)
const redOuterStyle=[[60,12,28],null,[50,0,20],[35,14,24]];

const svg=d3.select("body").append("svg").attr("width",W).attr("height",H);
svg.append("rect").attr("width",W).attr("height",H).attr("fill","#fff");
const x=d3.scaleLinear().domain([0,100]).range([0,PW]);
const y=d3.scaleLinear().domain([-0.175,0.175]).range([PH,0]);
const openLine=d3.line().x(d=>x(d[0])).y(d=>y(d[1])).curve(d3.curveCatmullRom);
const closedLine=d3.line().x(d=>x(d[0])).y(d=>y(d[1])).curve(d3.curveCatmullRomClosed);
const FONT='"Liberation Sans",Arial,sans-serif';

function dots(g,data,color,r){
  g.append("g").selectAll("circle").data(data).join("circle")
   .attr("cx",d=>x(d[0])).attr("cy",d=>y(d[1])).attr("r",r).attr("fill",color);
}

origins.forEach((o,i)=>{
  const g=svg.append("g").attr("transform",`translate(${o[0]},${o[1]})`);
  dots(g,panelCyan[i],colors[0],4.5);
  g.append("path").attr("d",closedLine(blackLoop)).attr("fill","none").attr("stroke",colors[1]).attr("stroke-width",9);
  dots(g,blueDots,colors[2],5.5);
  if(i===0){
    g.append("path").attr("d",closedLine(greenLoopA)).attr("fill","none").attr("stroke",colors[3])
      .attr("stroke-width",9).attr("stroke-linecap","round").attr("stroke-dasharray","0,8");
  }
  if(i===1){
    g.append("path").attr("d",openLine(greenBandB)).attr("fill","none").attr("stroke",colors[3])
      .attr("stroke-width",14).attr("stroke-linecap","round");
  }
  dots(g,panelGreenDots[i],colors[3],4.5);
  g.append("path").attr("d",openLine(redInner)).attr("fill","none").attr("stroke",colors[4])
    .attr("stroke-width",9).attr("stroke-linecap","round");
  const ro=g.append("path").attr("d",openLine(redOuter)).attr("fill","none").attr("stroke",colors[4])
    .attr("stroke-width",9).attr("stroke-linecap","round");
  const st=redOuterStyle[i];
  if(st){
    const len=ro.node().getTotalLength();
    const arr=[st[0],st[2]];
    let acc=st[0]+st[2];
    while(acc<len+50){arr.push(st[1],st[2]);acc+=st[1]+st[2];}
    ro.attr("stroke-dasharray",arr.join(","));
  }

  const styleAxis=a=>{a.select(".domain").remove();a.selectAll("line").attr("stroke","#000").attr("stroke-width",3);
    a.attr("font-family",FONT).attr("font-size",32);a.selectAll("text").attr("fill","#000");};
  g.append("g").attr("transform",`translate(0,${PH})`).call(d3.axisBottom(x).tickValues(xTicks).tickSize(-18).tickPadding(21).tickFormat(d=>String(d))).call(styleAxis);
  g.append("g").attr("transform",`translate(0,${PH})`).call(d3.axisBottom(x).tickValues(xMinor).tickSize(-9).tickFormat("")).call(styleAxis);
  g.append("g").call(d3.axisTop(x).tickValues(xTicks).tickSize(-18).tickFormat("")).call(styleAxis);
  g.append("g").call(d3.axisTop(x).tickValues(xMinor).tickSize(-9).tickFormat("")).call(styleAxis);
  g.append("g").call(d3.axisLeft(y).tickValues(yTicks).tickSize(-18).tickPadding(20).tickFormat(d=>d.toFixed(2))).call(styleAxis);
  g.append("g").call(d3.axisLeft(y).tickValues(yMinor).tickSize(-9).tickFormat("")).call(styleAxis);
  g.append("g").attr("transform",`translate(${PW},0)`).call(d3.axisRight(y).tickValues(yTicks).tickSize(-18).tickFormat("")).call(styleAxis);
  g.append("g").attr("transform",`translate(${PW},0)`).call(d3.axisRight(y).tickValues(yMinor).tickSize(-9).tickFormat("")).call(styleAxis);
  g.append("rect").attr("width",PW).attr("height",PH).attr("fill","none").attr("stroke","#000").attr("stroke-width",3);

  const t=g.append("text").attr("x",titleDx[i]).attr("y",-17).attr("font-family",FONT).attr("font-size",58).attr("fill","#000");
  t.append("tspan").text(panelLetters[i]+" E=0.9920,Q=1×10");
  t.append("tspan").attr("dy",-32).attr("font-size",35).text("-4");
  t.append("tspan").attr("dy",32).text(",B=9×10");
  t.append("tspan").attr("dy",-32).attr("font-size",35).text("-4");
  t.append("tspan").attr("dy",32).text(",L=3.8,q="+qMain[i]);
  if(qSup[i]) t.append("tspan").attr("dy",-32).attr("font-size",35).text(qSup[i]);

  g.append("text").attr("x",PW/2).attr("y",PH+130).attr("text-anchor","middle").attr("font-family",FONT).attr("font-size",135).attr("fill","#000").text("r");
  const yl=g.append("text").attr("transform",`translate(-121,362) rotate(-90)`).attr("font-family",FONT).attr("font-size",130).attr("fill","#000");
  yl.append("tspan").text("p");
  yl.append("tspan").attr("dy",32).attr("font-size",78).text("r");

  if(i===0){
    const lg=g.append("g").attr("transform","translate(935,543)");
    seriesLabels.forEach((s,k)=>{
      lg.append("circle").attr("cx",0).attr("cy",k*55).attr("r",4.5).attr("fill",colors[k]);
      lg.append("text").attr("x",51).attr("y",k*55+16).attr("font-family",FONT).attr("font-size",44).attr("fill",colors[k]).text(s);
    });
  }
});
</script>
</body></html>
